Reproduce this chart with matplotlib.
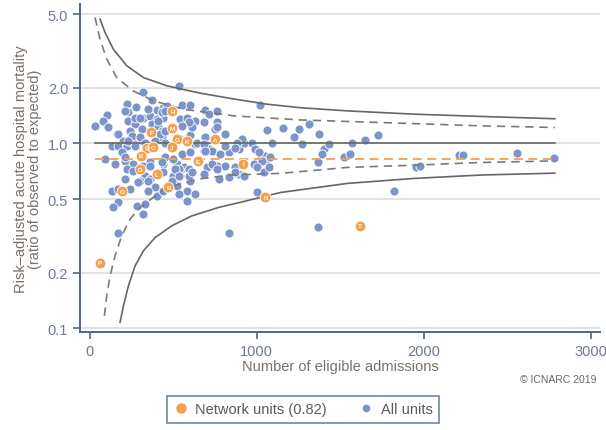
import matplotlib
matplotlib.use("Agg")
import matplotlib.pyplot as plt
from matplotlib.lines import Line2D

plt.rcParams["font.family"] = ["Liberation Sans", "DejaVu Sans"]

# funnel control limits (admissions, ratio)
upper998_x = [62, 92, 142, 222, 322, 462, 662, 862, 1062, 1262, 1542, 1942, 2342, 2786]
upper998_y = [4.70, 3.98, 3.23, 2.63, 2.27, 2.05, 1.87, 1.74, 1.63, 1.56, 1.50, 1.44, 1.40, 1.36]
upper95_x = [32, 62, 102, 162, 262, 382, 562, 862, 1262, 1542, 1942, 2342, 2786]
upper95_y = [4.80, 3.66, 2.86, 2.27, 1.92, 1.70, 1.53, 1.41, 1.34, 1.315, 1.28, 1.245, 1.22]
lower95_x = [88, 102, 122, 152, 192, 242, 302, 352, 462, 642, 842, 1142, 1542, 1942, 2342, 2786]
lower95_y = [0.117, 0.150, 0.192, 0.247, 0.317, 0.390, 0.451, 0.489, 0.578, 0.641, 0.674, 0.689,
             0.742, 0.763, 0.789, 0.805]
lower998_x = [182, 202, 232, 272, 322, 392, 492, 612, 772, 912, 1142, 1542, 1942, 2342, 2786]
lower998_y = [0.108, 0.132, 0.170, 0.218, 0.263, 0.310, 0.359, 0.406, 0.451, 0.483, 0.543, 0.608,
              0.647, 0.675, 0.691]
line_x = [32, 2786]
target_y = [1.0, 1.0]
network_y = [0.82, 0.82]

# all units
all_x = [532, 318, 372, 226, 278, 1022, 406, 438, 466, 552, 598, 692, 712, 762, 102, 82, 112, 32,
         232, 292, 322, 362, 402, 442, 542, 582, 632, 682, 762, 752, 232, 272, 242, 312, 372, 412,
         432, 1062, 1158, 1222, 1252, 162, 202, 132, 172, 222, 262, 312, 442, 542, 602, 632, 682,
         712, 732, 782, 832, 892, 922, 912, 1092, 1022, 1052, 92, 152, 212, 262, 322, 362, 442,
         522, 562, 222, 262, 212, 332, 362, 442, 502, 542, 592, 702, 762, 812, 872, 982, 1052, 682,
         772, 832, 892, 922, 132, 242, 302, 392, 522, 582, 602, 172, 142, 282, 322, 402, 532, 582,
         1002, 1312, 1272, 1372, 1366, 1402, 1392, 1432, 1522, 1562, 1572, 1646, 1728, 1822, 1368,
         1952, 1978, 2212, 2238, 2558, 2782, 1082, 1032, 168, 836, 212, 352, 432, 612, 692, 552,
         452, 192, 732, 592, 292, 352, 632, 972, 992,
         432, 452, 412, 272, 302, 172, 252, 302, 422, 452, 232, 332, 392, 452, 272,
         592, 552, 762, 812, 882, 642, 682, 812, 872, 602, 692, 1012, 532, 542, 612, 762,
         872, 1002, 1042, 1072, 212, 362, 432, 502, 512, 352, 492, 532, 442, 172, 332]
all_y = [2.05, 1.89, 1.72, 1.63, 1.58, 1.61, 1.52, 1.55, 1.60, 1.61, 1.61, 1.52, 1.44, 1.50, 1.42,
         1.32, 1.22, 1.245, 1.47, 1.365, 1.38, 1.41, 1.35, 1.38, 1.35, 1.365, 1.32, 1.30, 1.30,
         1.195, 1.32, 1.27, 1.17, 1.195, 1.27, 1.245, 1.17, 1.185, 1.205, 1.08, 1.195, 1.12, 1.03,
         0.97, 0.97, 0.97, 1.01, 1.03, 1.03, 1.055, 1.11, 0.99, 0.912, 0.93, 0.912, 0.875, 0.894,
         0.93, 1.01, 1.055, 1.0, 0.875, 0.857, 0.822, 0.773, 0.805, 0.773, 0.757, 0.789, 0.773,
         0.773, 0.742, 0.726, 0.711, 0.641, 0.668, 0.641, 0.697, 0.668, 0.711, 0.726, 0.742, 0.757,
         0.757, 0.742, 0.773, 0.805, 0.682, 0.641, 0.655, 0.682, 0.668, 0.554, 0.566, 0.628, 0.578,
         0.590, 0.554, 0.628, 0.480, 0.451, 0.460, 0.415, 0.521, 0.532, 0.489, 0.548, 1.27, 0.99,
         1.12, 0.789, 0.93, 0.875, 0.99, 0.840, 0.875, 1.01, 1.04, 1.11, 0.552, 0.354, 0.747, 0.751,
         0.865, 0.865, 0.883, 0.830, 0.846, 0.805, 0.328, 0.327, 1.50, 1.53, 1.08, 1.22, 1.08,
         0.875, 0.840, 0.894, 0.773, 0.668, 0.616, 0.554, 0.532, 1.01, 0.93,
         1.47, 1.50, 1.32, 1.38, 1.38, 1.12, 1.10, 1.08, 1.12, 1.17, 1.03, 1.01, 1.03, 1.01, 0.97,
         1.30, 1.245, 1.22, 1.12, 1.01, 1.01, 0.99, 0.97, 0.95, 0.894, 0.912, 0.894, 0.726, 0.668,
         0.697, 0.726, 0.697, 0.742, 0.697, 0.742, 0.84, 0.757, 0.789, 0.822, 0.726, 0.628, 0.628,
         0.668, 0.554, 0.566, 0.47]

# network units
net_labels = ["H", "F", "M", "G", "K", "A", "Q", "C", "J", "B", "E", "I", "D", "L", "R", "O",
              "N", "T", "P"]
net_x = [496, 368, 492, 522, 582, 752, 345, 382, 492, 308, 648, 920, 302, 402, 472, 192, 1052,
         1616, 62]
net_y = [1.49, 1.147, 1.21, 1.055, 1.03, 1.055, 0.95, 0.951, 0.951, 0.857, 0.80, 0.776, 0.726,
         0.682, 0.578, 0.55, 0.511, 0.359, 0.227]

BLUE = "#7b94c9"
ORANGE = "#f5a04f"
SPINE = "#4f6595"
GREY = "#666666"

fig = plt.figure(figsize=(6.06, 4.31), dpi=100)
ax = fig.add_axes([0.132, 0.227, 0.858, 0.761])

ax.set_yscale("log")
ax.set_ylim(0.0955, 5.66)
ax.set_xlim(-58, 3056)

for v in [0.1, 0.2, 0.5, 1.0, 2.0, 5.0]:
    ax.axhline(v, color="#dddddd", lw=1.2, zorder=0)

ax.scatter(all_x, all_y, s=42, color=BLUE, edgecolors="white", linewidths=0.6, zorder=2)

ax.plot(upper998_x, upper998_y, color=GREY, lw=1.2, zorder=3)
ax.plot(lower998_x, lower998_y, color=GREY, lw=1.2, zorder=3)
ax.plot(upper95_x, upper95_y, color="#7a7a7a", lw=1.2, ls=(0, (5, 3.5)), zorder=3)
ax.plot(lower95_x, lower95_y, color="#7a7a7a", lw=1.2, ls=(0, (5, 3.5)), zorder=3)
ax.plot(line_x, target_y, color=GREY, lw=1.2, zorder=3)
ax.plot(line_x, network_y, color=ORANGE, lw=1.3, ls=(0, (5, 3)), zorder=3)

ax.scatter(net_x, net_y, s=60, color=ORANGE, edgecolors="white", linewidths=0.6, zorder=4)
for lab, x, y in zip(net_labels, net_x, net_y):
    ax.text(x, y, lab, fontsize=4.5, color="white", ha="center", va="center",
            weight="bold", zorder=5)

ax.set_yticks([0.1, 0.2, 0.5, 1.0, 2.0, 5.0])
ax.set_yticklabels(["0.1", "0.2", "0.5", "1.0", "2.0", "5.0"])
ax.yaxis.set_minor_locator(matplotlib.ticker.NullLocator())
ax.set_xticks([0, 1000, 2000, 3000])

for side in ["top", "right"]:
    ax.spines[side].set_visible(False)
for side in ["left", "bottom"]:
    ax.spines[side].set_color(SPINE)
    ax.spines[side].set_linewidth(1.4)
ax.tick_params(colors=SPINE, width=1.2, length=5, labelsize=10.5, labelcolor="#6f7893")

ax.set_xlabel("Number of eligible admissions", fontsize=10.5, color="#7a7068", labelpad=1)
ax.set_ylabel("Risk\u2013adjusted acute hospital mortality\n(ratio of observed to expected)",
              fontsize=10.5, color="#7a7068", labelpad=4, linespacing=1.0)

fig.text(0.985, 0.112, "\u00a9 ICNARC 2019", fontsize=7.5, color="#666666", ha="right")

handles = [
    Line2D([], [], marker="o", ls="none", color=ORANGE, markersize=6.5, label="Network units (0.82)"),
    Line2D([], [], marker="o", ls="none", color=BLUE, markersize=4.5, label="All units"),
]
leg = fig.legend(handles=handles, loc="center", bbox_to_anchor=(0.5, 0.048), ncol=2,
                 frameon=True, fancybox=False, fontsize=10.5, handletextpad=0.5,
                 columnspacing=2.2, handlelength=1.0, borderpad=0.45)
leg.get_frame().set_edgecolor(SPINE)
leg.get_frame().set_linewidth(1.2)
for t in leg.get_texts():
    t.set_color("#5a5a5a")

fig.savefig("out.png", dpi=100)
